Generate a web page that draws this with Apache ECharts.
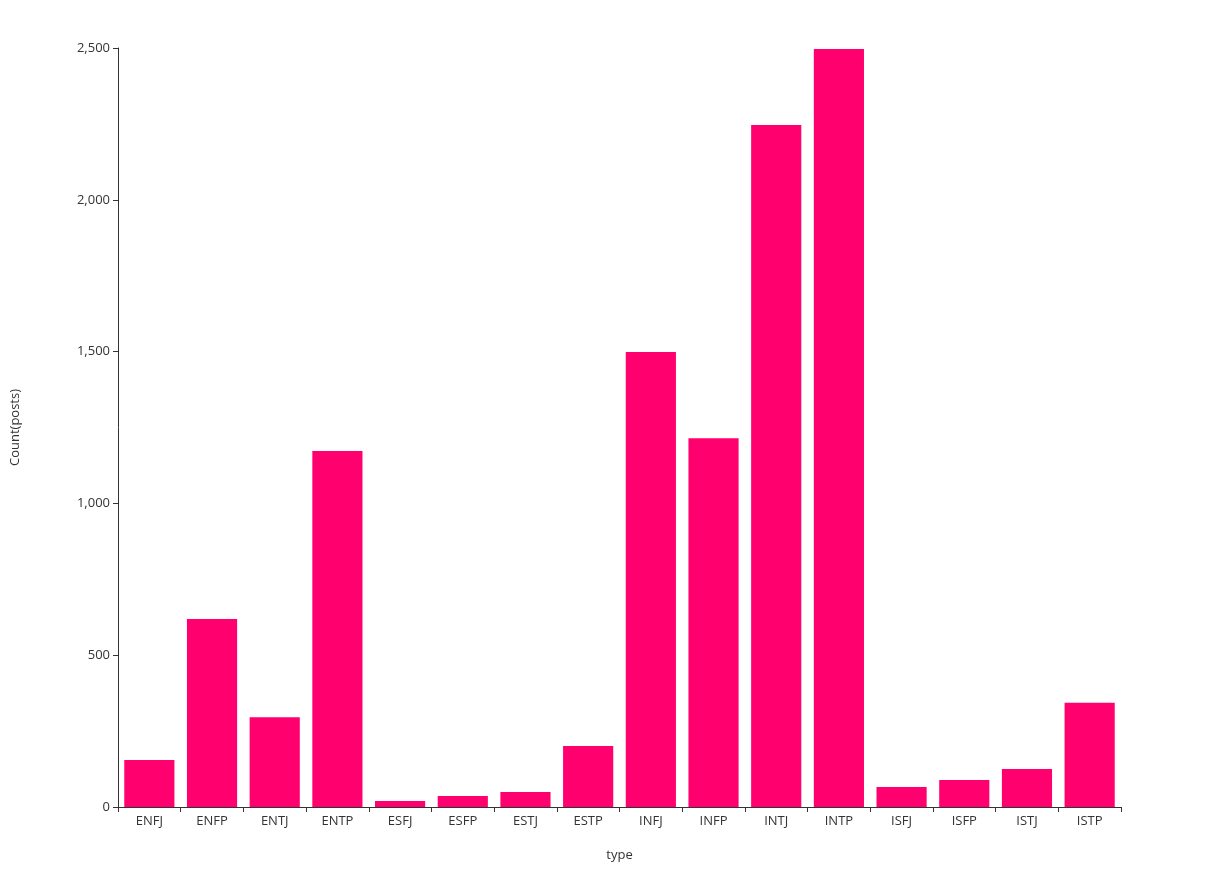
<!DOCTYPE html>
<html><head><meta charset="utf-8">
<script src="https://cdn.jsdelivr.net/npm/echarts@6/dist/echarts.min.js"></script>
<style>html,body{margin:0;padding:0;background:#fff}#c{width:1214px;height:871px}</style>
</head><body><div id="c"></div>
<script>
const categories = ["ENFJ","ENFP","ENTJ","ENTP","ESFJ","ESFP","ESTJ","ESTP","INFJ","INFP","INTJ","INTP","ISFJ","ISFP","ISTJ","ISTP"];
const counts = [155, 619, 296, 1173, 20, 36, 49, 201, 1499, 1215, 2246, 2497, 66, 89, 125, 343];
const yTicks = [0, 500, 1000, 1500, 2000, 2500];

const font = "'Open Sans', 'Noto Sans', sans-serif";
const chart = echarts.init(document.getElementById('c'), null, {renderer: 'canvas'});
chart.setOption({
  animation: false,
  grid: {left: 118, right: 93, top: 48, bottom: 64, containLabel: false},
  xAxis: {
    type: 'category', data: categories,
    name: 'type', nameLocation: 'middle', nameGap: 42,
    nameTextStyle: {color: '#333', fontSize: 13, fontFamily: font},
    axisLine: {lineStyle: {color: '#333', width: 1}},
    axisTick: {show: true, alignWithLabel: false, length: 5, lineStyle: {color: '#333'}},
    axisLabel: {color: '#333', fontSize: 13, fontFamily: font, margin: 8},
    splitLine: {show: false}
  },
  yAxis: {
    type: 'value', min: 0, max: 2500, interval: 500,
    name: 'Count(posts)', nameLocation: 'middle', nameGap: 96, nameRotate: 90,
    nameTextStyle: {color: '#333', fontSize: 13, fontFamily: font},
    axisLine: {show: true, lineStyle: {color: '#333', width: 1}},
    axisTick: {show: true, length: 5, lineStyle: {color: '#333'}},
    axisLabel: {color: '#333', fontSize: 13, fontFamily: font, margin: 8,
      formatter: v => yTicks.includes(v) ? v.toLocaleString('en-US') : ''},
    splitLine: {show: false}
  },
  series: [{
    type: 'bar', data: counts, barCategoryGap: '20%',
    itemStyle: {color: '#FF006E'}
  }]
});
</script></body></html>
